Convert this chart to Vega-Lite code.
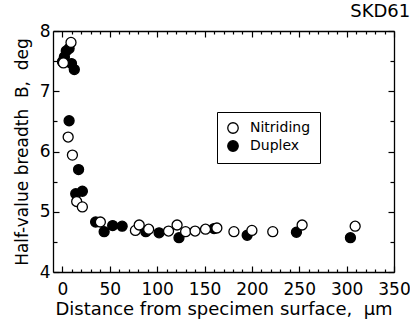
{
  "$schema": "https://vega.github.io/schema/vega-lite/v6.json",
  "width": 341,
  "height": 241,
  "autosize": {"type": "none"},
  "padding": {"left": 53, "top": 31, "right": 16, "bottom": 53},
  "background": "white",
  "title": {"text": "SKD61", "anchor": "end", "fontSize": 18, "font": "DejaVu Sans", "fontWeight": "normal", "color": "black", "offset": 1},
  "config": {
    "view": {"stroke": null},
    "axis": {
      "domainColor": "black", "domainWidth": 1.3, "tickColor": "black", "tickWidth": 1.2,
      "labelFont": "DejaVu Sans", "labelFontSize": 17, "labelColor": "black",
      "titleFont": "DejaVu Sans", "titleFontSize": 18, "titleFontWeight": "normal", "titleColor": "black",
      "grid": false, "labelOverlap": false, "labelFlush": false
    }
  },
  "data": {"values": [
    {"d": 0, "B": 7.49, "series": "Duplex"},
    {"d": 2, "B": 7.57, "series": "Duplex"},
    {"d": 4, "B": 7.67, "series": "Duplex"},
    {"d": 7, "B": 7.71, "series": "Duplex"},
    {"d": 9.5, "B": 7.46, "series": "Duplex"},
    {"d": 12.5, "B": 7.36, "series": "Duplex"},
    {"d": 7, "B": 6.51, "series": "Duplex"},
    {"d": 17, "B": 5.70, "series": "Duplex"},
    {"d": 14, "B": 5.30, "series": "Duplex"},
    {"d": 21, "B": 5.34, "series": "Duplex"},
    {"d": 35, "B": 4.83, "series": "Duplex"},
    {"d": 44, "B": 4.67, "series": "Duplex"},
    {"d": 53, "B": 4.77, "series": "Duplex"},
    {"d": 63, "B": 4.76, "series": "Duplex"},
    {"d": 88, "B": 4.67, "series": "Duplex"},
    {"d": 102, "B": 4.65, "series": "Duplex"},
    {"d": 123, "B": 4.57, "series": "Duplex"},
    {"d": 160, "B": 4.72, "series": "Duplex"},
    {"d": 195, "B": 4.61, "series": "Duplex"},
    {"d": 247, "B": 4.66, "series": "Duplex"},
    {"d": 304, "B": 4.57, "series": "Duplex"},
    {"d": 1, "B": 7.47, "series": "Nitriding"},
    {"d": 9, "B": 7.81, "series": "Nitriding"},
    {"d": 6, "B": 6.24, "series": "Nitriding"},
    {"d": 10.5, "B": 5.94, "series": "Nitriding"},
    {"d": 15, "B": 5.17, "series": "Nitriding"},
    {"d": 21, "B": 5.08, "series": "Nitriding"},
    {"d": 40, "B": 4.83, "series": "Nitriding"},
    {"d": 77, "B": 4.69, "series": "Nitriding"},
    {"d": 81, "B": 4.78, "series": "Nitriding"},
    {"d": 91, "B": 4.71, "series": "Nitriding"},
    {"d": 112, "B": 4.68, "series": "Nitriding"},
    {"d": 121, "B": 4.78, "series": "Nitriding"},
    {"d": 130, "B": 4.67, "series": "Nitriding"},
    {"d": 140, "B": 4.68, "series": "Nitriding"},
    {"d": 151, "B": 4.71, "series": "Nitriding"},
    {"d": 163, "B": 4.73, "series": "Nitriding"},
    {"d": 181, "B": 4.67, "series": "Nitriding"},
    {"d": 200, "B": 4.69, "series": "Nitriding"},
    {"d": 222, "B": 4.67, "series": "Nitriding"},
    {"d": 253, "B": 4.78, "series": "Nitriding"},
    {"d": 309, "B": 4.76, "series": "Nitriding"}
  ]},
  "resolve": {"axis": {"x": "independent", "y": "independent"}},
  "layer": [
    {
      "mark": {"type": "point", "shape": "circle", "filled": true, "stroke": "black", "strokeWidth": 1.3, "size": 100, "opacity": 1},
      "encoding": {
        "x": {"field": "d", "type": "quantitative", "scale": {"domain": [-10, 350], "nice": false, "zero": false},
              "axis": {"orient": "bottom", "values": [0, 50, 100, 150, 200, 250, 300, 350], "tickSize": -6, "labelPadding": 15, "title": "Distance from specimen surface,\u00a0\u00a0µm", "titlePadding": 3}},
        "y": {"field": "B", "type": "quantitative", "scale": {"domain": [4, 8], "nice": false, "zero": false},
              "axis": {"orient": "left", "values": [4, 5, 6, 7, 8], "tickSize": -6, "labelPadding": 9, "title": "Half-value breadth\u00a0\u00a0B,\u00a0\u00a0deg", "titleFontSize": 17, "titlePadding": 8}},
        "fill": {"field": "series", "type": "nominal", "sort": ["Nitriding", "Duplex"],
                 "scale": {"domain": ["Nitriding", "Duplex"], "range": ["white", "black"]},
                 "legend": {"orient": "none", "legendX": 164, "legendY": 81, "title": null, "strokeColor": "black", "fillColor": "white", "padding": 9,
                            "labelFont": "DejaVu Sans", "labelFontSize": 14, "labelColor": "black", "labelOffset": 10,
                            "symbolType": "circle", "symbolSize": 110, "symbolStrokeColor": "black", "symbolStrokeWidth": 1.3, "rowPadding": 2}}
      }
    },
    {
      "mark": {"type": "point", "opacity": 0},
      "encoding": {
        "x": {"field": "d", "type": "quantitative", "axis": {"orient": "top", "values": [0, 50, 100, 150, 200, 250, 300, 350], "tickSize": -6, "labels": false, "title": null}},
        "y": {"field": "B", "type": "quantitative", "axis": {"orient": "right", "values": [4, 5, 6, 7, 8], "tickSize": -6, "labels": false, "title": null}}
      }
    },
    {
      "mark": {"type": "point", "opacity": 0},
      "encoding": {
        "x": {"field": "d", "type": "quantitative", "axis": {"orient": "bottom", "values": [10, 20, 30, 40, 60, 70, 80, 90, 110, 120, 130, 140, 160, 170, 180, 190, 210, 220, 230, 240, 260, 270, 280, 290, 310, 320, 330, 340], "tickSize": -3, "labels": false, "domain": false, "title": null}},
        "y": {"field": "B", "type": "quantitative", "axis": {"orient": "left", "values": [4.5, 5.5, 6.5, 7.5], "tickSize": -4, "labels": false, "domain": false, "title": null}}
      }
    },
    {
      "mark": {"type": "point", "opacity": 0},
      "encoding": {
        "x": {"field": "d", "type": "quantitative", "axis": {"orient": "top", "values": [10, 20, 30, 40, 60, 70, 80, 90, 110, 120, 130, 140, 160, 170, 180, 190, 210, 220, 230, 240, 260, 270, 280, 290, 310, 320, 330, 340], "tickSize": -3, "labels": false, "domain": false, "title": null}},
        "y": {"field": "B", "type": "quantitative", "axis": {"orient": "right", "values": [4.5, 5.5, 6.5, 7.5], "tickSize": -4, "labels": false, "domain": false, "title": null}}
      }
    }
  ]
}
